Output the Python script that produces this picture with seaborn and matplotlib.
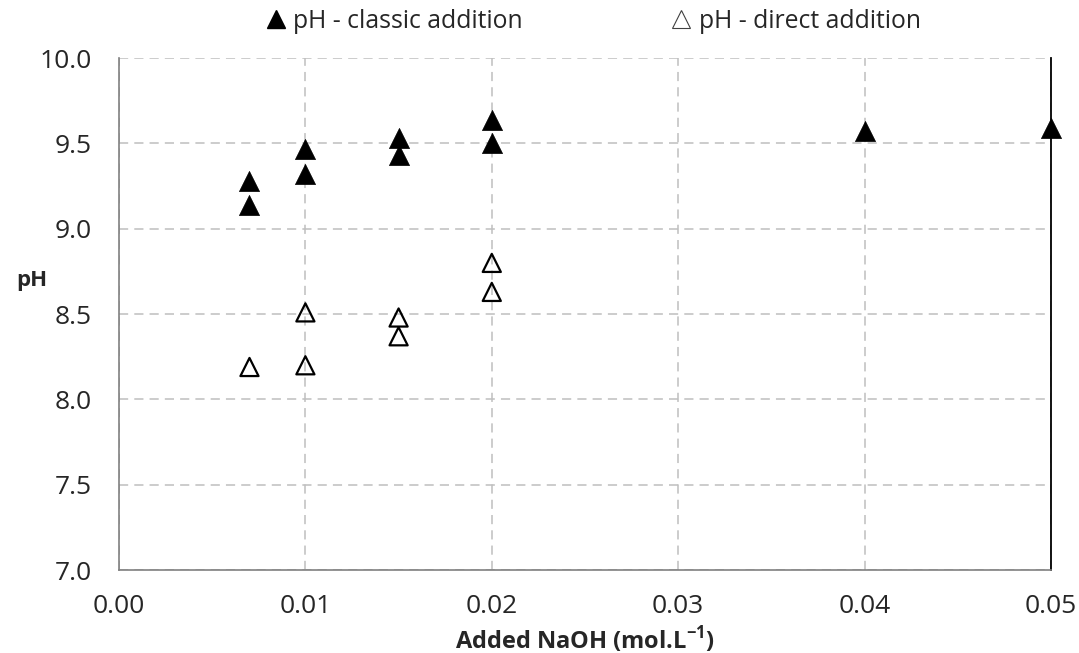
import numpy as np
import pandas as pd
import matplotlib
matplotlib.use("Agg")
import matplotlib.pyplot as plt
import seaborn as sns
from matplotlib.lines import Line2D

# ---------------------------------------------------------------------------
# Data
# ---------------------------------------------------------------------------
naoh_classic = [0.007, 0.007, 0.010, 0.010, 0.015, 0.015, 0.020, 0.020, 0.040, 0.050]
ph_classic   = [9.28, 9.14, 9.47, 9.32, 9.53, 9.43, 9.64, 9.50, 9.57, 9.59]

naoh_direct  = [0.007, 0.010, 0.010, 0.015, 0.015, 0.020, 0.020]
ph_direct    = [8.19, 8.51, 8.20, 8.48, 8.37, 8.80, 8.63]

x_ticks = [0.00, 0.01, 0.02, 0.03, 0.04, 0.05]
y_ticks = [7.0, 7.5, 8.0, 8.5, 9.0, 9.5, 10.0]

label_classic = "pH - classic addition"
label_direct  = "pH - direct addition"

df_classic = pd.DataFrame({"naoh": naoh_classic, "ph": ph_classic})
df_direct  = pd.DataFrame({"naoh": naoh_direct, "ph": ph_direct})

# ---------------------------------------------------------------------------
# Style
# ---------------------------------------------------------------------------
sns.set_style("white")
plt.rcParams["font.family"] = ["Open Sans", "DejaVu Sans"]
plt.rcParams["mathtext.fontset"] = "custom"
plt.rcParams["mathtext.bf"] = "Open Sans:bold"
plt.rcParams["mathtext.rm"] = "Open Sans"

fig = plt.figure(figsize=(10.79, 6.53), dpi=100)
ax = fig.add_axes([0.1103, 0.127, 0.974 - 0.1103, 0.911 - 0.127])

GRID = "#bfbfbf"
AXIS = "#808080"

# ---------------------------------------------------------------------------
# Points
# ---------------------------------------------------------------------------
sns.scatterplot(data=df_classic, x="naoh", y="ph", ax=ax, marker="^",
                s=210, color="black", edgecolor="black", linewidth=0.5,
                zorder=3, legend=False, clip_on=False)
sns.scatterplot(data=df_direct, x="naoh", y="ph", ax=ax, marker="^",
                s=170, facecolor="none", edgecolor="black", linewidth=1.6,
                zorder=3, legend=False, clip_on=False)

# ---------------------------------------------------------------------------
# Axes
# ---------------------------------------------------------------------------
ax.set_xlim(0.0, 0.05)
ax.set_ylim(7.0, 10.0)
ax.set_xticks(x_ticks)
ax.set_yticks(y_ticks)
ax.set_xticklabels([f"{v:.2f}" for v in x_ticks])
ax.set_yticklabels([f"{v:.1f}" for v in y_ticks])
ax.tick_params(axis="x", direction="out", length=8, width=1, color=AXIS,
               labelsize=19, pad=9)
ax.tick_params(axis="y", direction="in", length=8, width=1, color=AXIS,
               labelsize=19, pad=19.5)

ax.grid(True, color=GRID, linestyle=(0, (6, 4)), linewidth=1.1)
ax.set_axisbelow(True)

for side in ["left", "bottom"]:
    ax.spines[side].set_color(AXIS)
    ax.spines[side].set_linewidth(1.2)
ax.spines["right"].set_color("black")
ax.spines["right"].set_linewidth(1.3)
ax.spines["top"].set_visible(False)

ax.set_xlabel(r"Added NaOH (mol.L$^{\mathbf{-1}}$)", fontsize=17,
              fontweight="bold")
ax.xaxis.set_label_coords(0.5, -0.136)
ax.xaxis.label.set_va("center")
ax.set_ylabel("pH", fontsize=16, fontweight="bold", rotation=0, va="center")
ax.yaxis.set_label_coords(-0.094, 0.565)

# ---------------------------------------------------------------------------
# Legend (above the plot)
# ---------------------------------------------------------------------------
handles = [
    Line2D([], [], marker="^", linestyle="none", markersize=12.5,
           markerfacecolor="black", markeredgecolor="black"),
    Line2D([], [], marker="^", linestyle="none", markersize=12.5,
           markerfacecolor="none", markeredgecolor="#404040", markeredgewidth=0.8),
]
fig.legend(handles, [label_classic, label_direct], loc="center",
           bbox_to_anchor=(0.550, 0.967), ncol=2, frameon=False,
           fontsize=17.8, handlelength=0.8, handletextpad=0.3,
           columnspacing=6.0)

fig.savefig("out.png", dpi=100)
plt.close(fig)
